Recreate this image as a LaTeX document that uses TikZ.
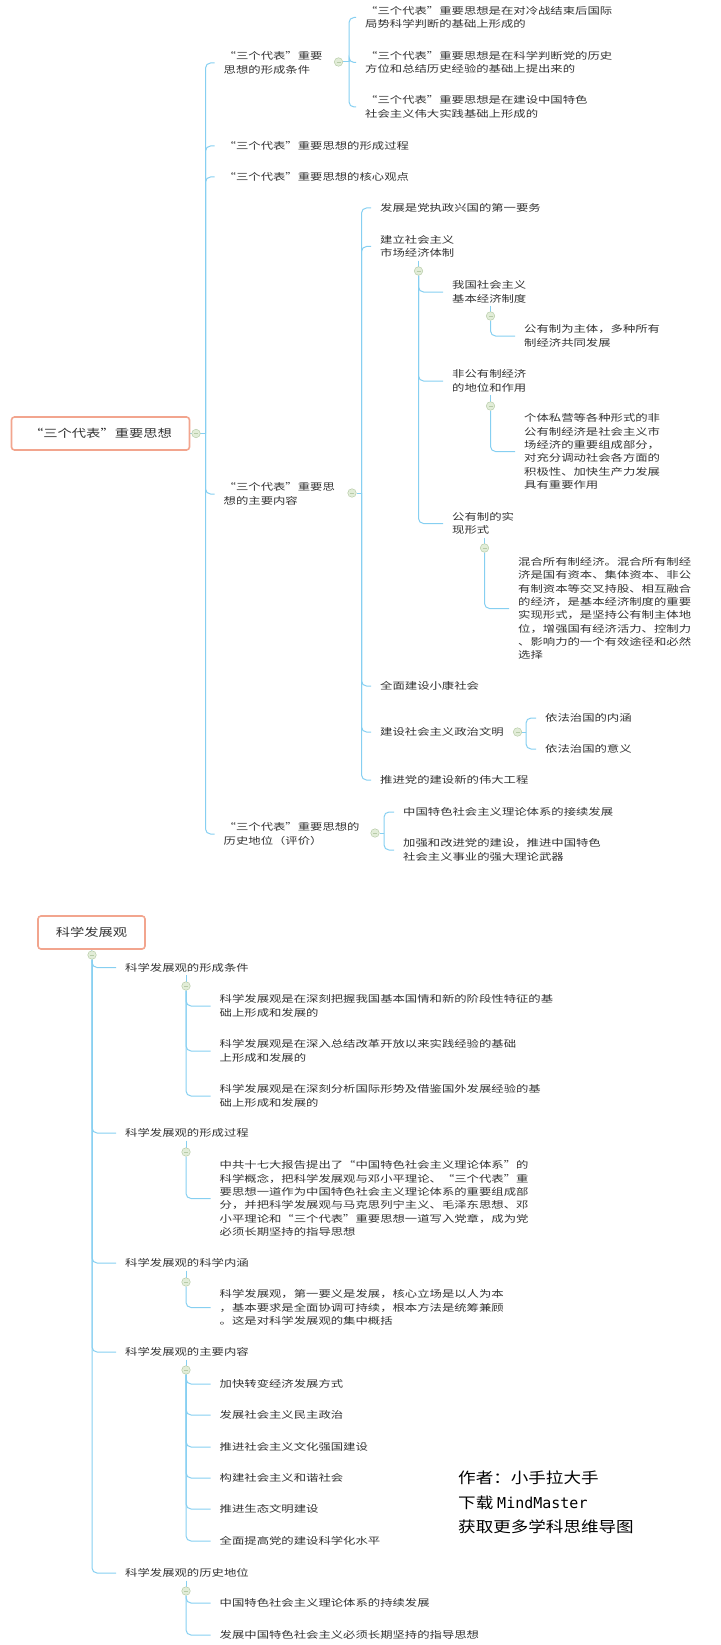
\documentclass[tikz,border=0pt]{standalone}
\usepackage{fontspec}
\setmainfont{Noto Sans CJK SC}[FakeStretch=1.3]
\newfontfamily\markfont{Noto Sans CJK SC}[FakeStretch=1.17]
\newfontfamily\monofont{DejaVu Sans Mono}
\usetikzlibrary{calc}

\definecolor{linkc}{HTML}{86CFF1}
\definecolor{topicline}{HTML}{F2A58E}
\definecolor{knobfill}{HTML}{E2EDD8}
\definecolor{knobline}{HTML}{B7CBA8}
\definecolor{txt}{HTML}{333333}

\pgfdeclarelayer{bg}
\pgfsetlayers{bg,main}

\tikzset{
	topic/.style={draw=topicline, line width=1.6pt, rounded corners=3pt, fill=white,
		minimum height=33pt, inner sep=0pt, text=txt, font=\fontsize{11}{14}\selectfont},
	item/.style={anchor=west, inner sep=0pt, align=left, text=txt,
		font=\fontsize{9.5}{13.3}\selectfont},
	knob/.style={circle, draw=knobline, fill=knobfill, line width=0.5pt,
		minimum size=8.5pt, inner sep=0pt,
		path picture={\draw[knobline, line width=0.5pt]
			([xshift=-2pt]path picture bounding box.center) --
			([xshift=2pt]path picture bounding box.center);}},
	link/.style={draw=linkc, line width=1pt, rounded corners=5pt},
}

\begin{document}
\begin{tikzpicture}[x=1pt,y=-1pt]
	\useasboundingbox (0,0) rectangle (720,1645);
	\def\branch#1#2{\draw[link] (#1) |- ([xshift=-9pt]#2.west);}
	\def\stub#1#2{\draw[link] ([yshift=-3pt]#1.south -| #2) -- (#2);}

	% first topic
	\node[topic, minimum width=178pt] (sgdb) at (100.5,433.5) {“三个代表”重要思想};
	\node[knob] (sgdb-k) at (196,433.5) {};
	\coordinate (sgdb-s) at (205.5,433.5);

	\node[item] (tj) at (223.5,63) {“三个代表”重要\\思想的形成条件};
	\node[item] (gc) at (223.5,146) {“三个代表”重要思想的形成过程};
	\node[item] (gd) at (223.5,177) {“三个代表”重要思想的核心观点};
	\node[item] (nr) at (223.5,494) {“三个代表”重要思\\想的主要内容};
	\node[item] (dw) at (223.5,834) {“三个代表”重要思想的\\历史地位（评价）};

	% formation conditions
	\node[knob] (tj-k) at (338.5,62) {};
	\coordinate (tj-s) at (349,62);
	\node[item] (tj1) at (365,17.5) {“三个代表”重要思想是在对冷战结束后国际\\局势科学判断的基础上形成的};
	\node[item] (tj2) at (365,62.5) {“三个代表”重要思想是在科学判断党的历史\\方位和总结历史经验的基础上提出来的};
	\node[item] (tj3) at (365,107) {“三个代表”重要思想是在建设中国特色\\社会主义伟大实践基础上形成的};

	% main contents
	\node[knob] (nr-k) at (352,493) {};
	\coordinate (nr-s) at (361.5,493);
	\node[item] (nr1) at (380,208) {发展是党执政兴国的第一要务};
	\node[item] (nr2) at (380,246.5) {建立社会主义\\市场经济体制};
	\node[item] (nr3) at (380,686) {全面建设小康社会};
	\node[item] (nr4) at (380,732) {建设社会主义政治文明};
	\node[item] (nr5) at (380,780) {推进党的建设新的伟大工程};

	\node[knob] (nr2-k) at (418.5,271) {};
	\node[item] (jb) at (452,292) {我国社会主义\\基本经济制度};
	\node[item] (fg) at (452,381) {非公有制经济\\的地位和作用};
	\node[item] (sx) at (452,523.5) {公有制的实\\现形式};

	\node[knob] (jb-k) at (490.5,316) {};
	\node[item] (jb1) at (524,336) {公有制为主体，多种所有\\制经济共同发展};
	\node[knob] (fg-k) at (490.5,406) {};
	\node[item] (fg1) at (524,451.5) {个体私营等各种形式的非\\公有制经济是社会主义市\\场经济的重要组成部分，\\对充分调动社会各方面的\\积极性、加快生产力发展\\具有重要作用};
	\node[knob] (sx-k) at (484.5,548) {};
	\node[item] (sx1) at (518,608.5) {混合所有制经济。混合所有制经\\济是国有资本、集体资本、非公\\有制资本等交叉持股、相互融合\\的经济，是基本经济制度的重要\\实现形式，是坚持公有制主体地\\位，增强国有经济活力、控制力\\、影响力的一个有效途径和必然\\选择};

	\node[knob] (nr4-k) at (517.5,732) {};
	\coordinate (nr4-s) at (526,732);
	\node[item] (nr41) at (545,718) {依法治国的内涵};
	\node[item] (nr42) at (545,749) {依法治国的意义};

	% historical position
	\node[knob] (dw-k) at (375,833) {};
	\coordinate (dw-s) at (384,833);
	\node[item] (dw1) at (403,812) {中国特色社会主义理论体系的接续发展};
	\node[item] (dw2) at (403,850) {加强和改进党的建设，推进中国特色\\社会主义事业的强大理论武器};

	% second topic
	\node[topic, minimum width=107pt] (kx) at (91.5,932.5) {科学发展观};
	\node[knob] (kx-k) at (92,955) {};
	\node[item] (kx1) at (125,967.5) {科学发展观的形成条件};
	\node[item] (kx2) at (125,1133) {科学发展观的形成过程};
	\node[item] (kx3) at (125,1263) {科学发展观的科学内涵};
	\node[item] (kx4) at (125,1352) {科学发展观的主要内容};
	\node[item] (kx5) at (125,1573) {科学发展观的历史地位};

	\node[knob] (kx1-k) at (186,986) {};
	\node[item] (kx11) at (219.5,1006) {科学发展观是在深刻把握我国基本国情和新的阶段性特征的基\\础上形成和发展的};
	\node[item] (kx12) at (219.5,1051) {科学发展观是在深入总结改革开放以来实践经验的基础\\上形成和发展的};
	\node[item] (kx13) at (219.5,1096) {科学发展观是在深刻分析国际形势及借鉴国外发展经验的基\\础上形成和发展的};

	\node[knob] (kx2-k) at (186,1152) {};
	\node[item] (kx21) at (219.5,1198.5) {中共十七大报告提出了“中国特色社会主义理论体系”的\\科学概念，把科学发展观与邓小平理论、“三个代表”重\\要思想一道作为中国特色社会主义理论体系的重要组成部\\分，并把科学发展观与马克思列宁主义、毛泽东思想、邓\\小平理论和“三个代表”重要思想一道写入党章，成为党\\必须长期坚持的指导思想};

	\node[knob] (kx3-k) at (186,1282) {};
	\node[item] (kx31) at (219.5,1307.5) {科学发展观，第一要义是发展，核心立场是以人为本\\，基本要求是全面协调可持续，根本方法是统筹兼顾\\。这是对科学发展观的集中概括};

	\node[knob] (kx4-k) at (186,1370) {};
	\foreach \y/\t [count=\i] in {1384/加快转变经济发展方式, 1415/发展社会主义民主政治,
		1447/推进社会主义文化强国建设, 1478/构建社会主义和谐社会,
		1509/推进生态文明建设, 1541/全面提高党的建设科学化水平}
		\node[item] (kx4\i) at (219.5,\y) {\t};

	\node[knob] (kx5-k) at (186,1591) {};
	\node[item] (kx51) at (219.5,1603) {中国特色社会主义理论体系的持续发展};
	\node[item] (kx52) at (219.5,1635) {发展中国特色社会主义必须长期坚持的指导思想};

	\node[anchor=west, align=left, inner sep=0pt, text=black,
		font=\markfont\fontsize{15}{24.5}\selectfont] (wm) at (458,1502.5)
		{作者：小手拉大手\\下载 {\monofont MindMaster}\\获取更多学科思维导图};

	% connectors
	\begin{pgfonlayer}{bg}
		\draw[link] (sgdb.east) -- (sgdb-s);
		\foreach \n in {tj,gc,gd,nr,dw} {\branch{sgdb-s}{\n}}
		\draw[link] (tj-k) -- (tj-s);
		\foreach \n in {tj1,tj2,tj3} {\branch{tj-s}{\n}}
		\draw[link] (nr-k) -- (nr-s);
		\foreach \n in {nr1,nr2,nr3,nr4,nr5} {\branch{nr-s}{\n}}
		\stub{nr2}{nr2-k}
		\foreach \n in {jb,fg,sx} {\branch{nr2-k}{\n}}
		\stub{jb}{jb-k} \branch{jb-k}{jb1}
		\stub{fg}{fg-k} \branch{fg-k}{fg1}
		\stub{sx}{sx-k} \branch{sx-k}{sx1}
		\draw[link] (nr4-k) -- (nr4-s);
		\foreach \n in {nr41,nr42} {\branch{nr4-s}{\n}}
		\draw[link] (dw-k) -- (dw-s);
		\foreach \n in {dw1,dw2} {\branch{dw-s}{\n}}

		\draw[link] (kx.south) -- (kx-k);
		\foreach \n in {kx1,kx2,kx3,kx4,kx5} {\branch{kx-k}{\n}}
		\stub{kx1}{kx1-k}
		\foreach \n in {kx11,kx12,kx13} {\branch{kx1-k}{\n}}
		\stub{kx2}{kx2-k} \branch{kx2-k}{kx21}
		\stub{kx3}{kx3-k} \branch{kx3-k}{kx31}
		\stub{kx4}{kx4-k}
		\foreach \i in {1,...,6} {\branch{kx4-k}{kx4\i}}
		\stub{kx5}{kx5-k}
		\foreach \n in {kx51,kx52} {\branch{kx5-k}{\n}}
	\end{pgfonlayer}
\end{tikzpicture}
\end{document}
